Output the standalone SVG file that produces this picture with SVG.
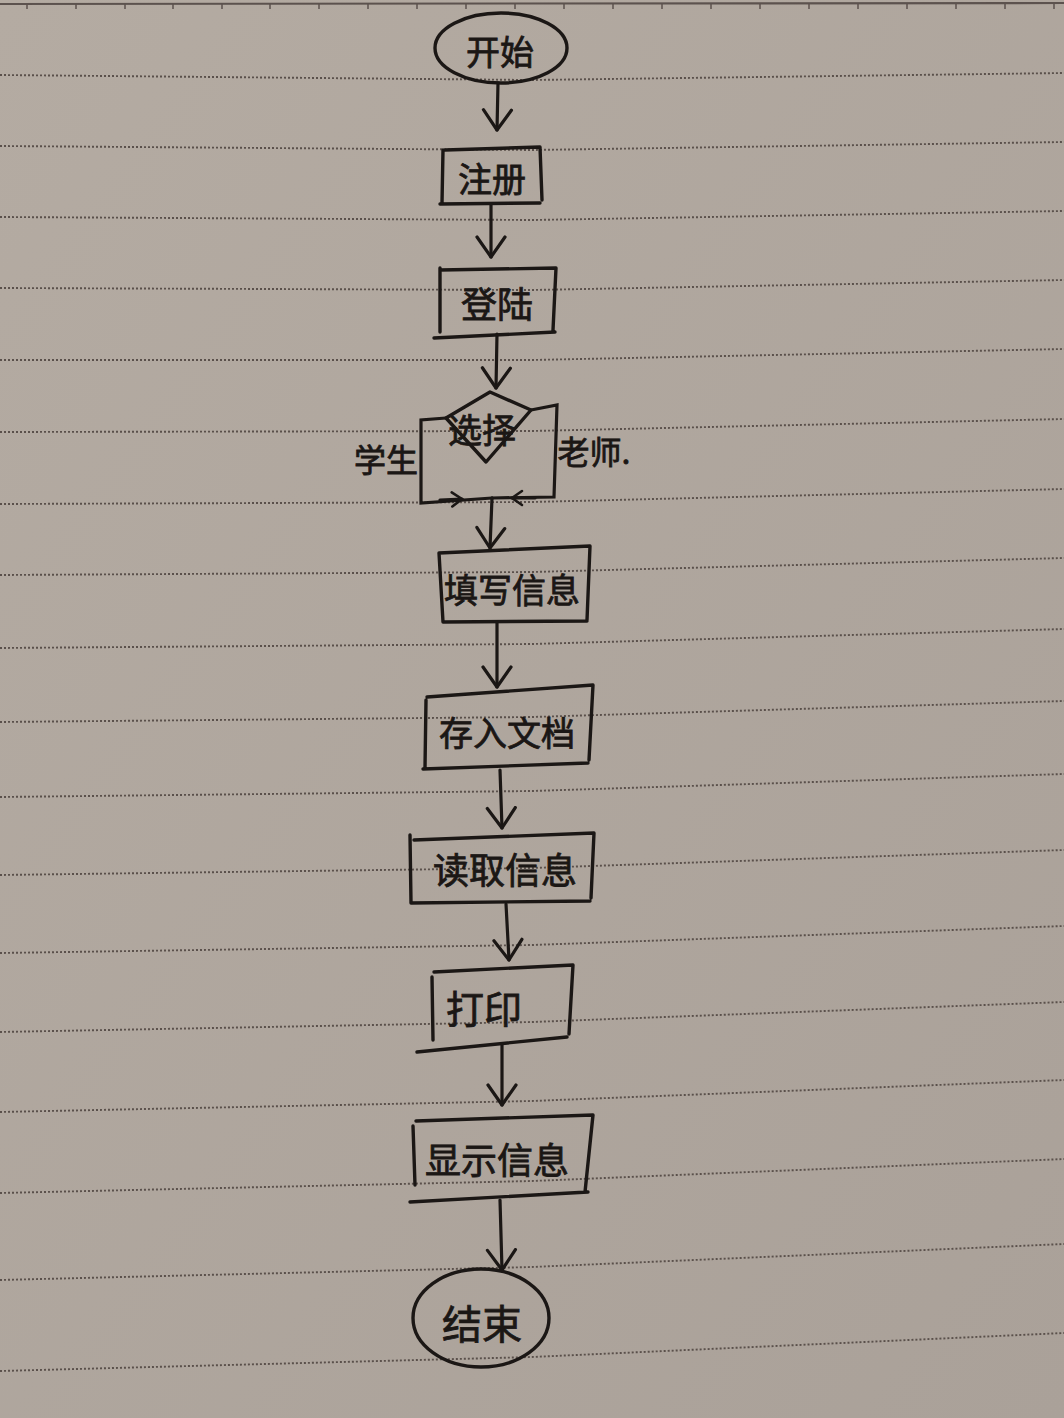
<svg xmlns="http://www.w3.org/2000/svg" width="1064" height="1418" viewBox="0 0 1064 1418">
  <defs>
    <linearGradient id="paper" x1="0" y1="0" x2="1" y2="1">
      <stop offset="0" stop-color="#b4aba2"/>
      <stop offset="1" stop-color="#aaa199"/>
    </linearGradient>
    <marker id="vhead" markerUnits="userSpaceOnUse" markerWidth="34" markerHeight="34" refX="22" refY="15" orient="auto" viewBox="0 0 34 30">
      <path d="M2,1 L22,15 L2,29" fill="none" stroke="#1b1715" stroke-width="3.2" stroke-linecap="round" stroke-linejoin="round"/>
    </marker>
    <marker id="small" markerUnits="userSpaceOnUse" markerWidth="20" markerHeight="20" refX="12" refY="8" orient="auto" viewBox="0 0 20 16">
      <path d="M2,1 L12,8 L2,15" fill="none" stroke="#1b1715" stroke-width="2.6" stroke-linecap="round"/>
    </marker>
  </defs>
  <style>
    .rule { fill: none; stroke: #5a504b; stroke-width: 1.9; stroke-dasharray: 2 2; }
    .ink { fill: none; stroke: #1b1715; stroke-width: 3.4; stroke-linecap: round; stroke-linejoin: round; }
    .lbl { font-family: "Noto Sans CJK SC", "Noto Sans", sans-serif; fill: #1b1715; stroke: #1b1715; stroke-width: 0.8; text-anchor: middle; dominant-baseline: central; }
    .conn { fill: none; stroke: #1b1715; stroke-width: 3.2; stroke-linecap: round; }
  </style>

  <rect x="0" y="0" width="1064" height="1418" fill="url(#paper)"/>

  <g id="paper-rules">
    <path d="M0,4 L1064,3" fill="none" stroke="#5c524e" stroke-width="2.2"/>
    <path d="M27,4 v5 M76,4 v5 M125,4 v5 M173,4 v5 M222,4 v5 M270,4 v5 M319,4 v5 M368,4 v5 M417,4 v5 M466,4 v5 M515,4 v5 M564,4 v5 M613,4 v5 M662,4 v5 M711,4 v5 M760,4 v5 M809,4 v5 M858,4 v5 M907,4 v5 M956,4 v5 M1005,4 v5 M1054,4 v5" stroke="#5c524e" stroke-width="1.5"/>
    <path class="rule" d="M0,75 L532,80 L1064,73"/>
    <path class="rule" d="M0,146 L532,150 L1064,142"/>
    <path class="rule" d="M0,217 L532,220 L1064,211"/>
    <path class="rule" d="M0,288 L532,290 L1064,280"/>
    <path class="rule" d="M0,360 L532,360 L1064,349"/>
    <path class="rule" d="M0,432 L532,431 L1064,419"/>
    <path class="rule" d="M0,504 L532,502 L1064,489"/>
    <path class="rule" d="M0,575 L532,572 L1064,558"/>
    <path class="rule" d="M0,648 L532,644 L1064,629"/>
    <path class="rule" d="M0,722 L532,717 L1064,701"/>
    <path class="rule" d="M0,797 L532,791 L1064,774"/>
    <path class="rule" d="M0,875 L532,868 L1064,850"/>
    <path class="rule" d="M0,953 L532,945 L1064,926"/>
    <path class="rule" d="M0,1032 L532,1022 L1064,1002"/>
    <path class="rule" d="M0,1112 L532,1101 L1064,1080"/>
    <path class="rule" d="M0,1193 L532,1181 L1064,1159"/>
    <path class="rule" d="M0,1280 L532,1267 L1064,1244"/>
    <path class="rule" d="M0,1371 L532,1357 L1064,1333"/>
  </g>

  <g id="connectors">
    <path class="conn" d="M498,83 L497,130" marker-end="url(#vhead)"/>
    <path class="conn" d="M491,205 L491,257" marker-end="url(#vhead)"/>
    <path class="conn" d="M497,334 L496,388" marker-end="url(#vhead)"/>
    <path class="conn" d="M446,418 L421,420 L421,503 L492,498"/>
    <path class="conn" d="M531,410 L557,405 L554,497 L492,498"/>
    <path class="conn" d="M440,500 L462,499" marker-end="url(#small)"/>
    <path class="conn" d="M535,498 L512,498" marker-end="url(#small)"/>
    <path class="conn" d="M492,498 L490,548" marker-end="url(#vhead)"/>
    <path class="conn" d="M497,623 L497,687" marker-end="url(#vhead)"/>
    <path class="conn" d="M500,770 L502,828" marker-end="url(#vhead)"/>
    <path class="conn" d="M506,904 L509,960" marker-end="url(#vhead)"/>
    <path class="conn" d="M502,1045 L502,1105" marker-end="url(#vhead)"/>
    <path class="conn" d="M500,1200 L502,1270" marker-end="url(#vhead)"/>
  </g>

  <g id="start">
    <ellipse class="ink" cx="501" cy="48" rx="66" ry="35"/>
    <text class="lbl" x="500" y="50" font-size="34">开始</text>
  </g>

  <g id="register">
    <path class="ink" d="M445,150 L540,147 L542,200 M443,150 L442,203 M440,204 L540,203"/>
    <text class="lbl" x="492" y="177" font-size="34">注册</text>
  </g>

  <g id="login">
    <path class="ink" d="M440,270 L556,268 L553,330 M440,268 L440,332 M434,338 L555,332"/>
    <text class="lbl" x="497" y="302" font-size="36">登陆</text>
  </g>

  <g id="choose">
    <path class="ink" d="M490,392 L531,410 L486,462 L446,418 Z"/>
    <text class="lbl" x="482" y="428" font-size="34">选择</text>
  </g>

  <g id="label-student">
    <text class="lbl" x="386" y="458" font-size="32">学生</text>
  </g>

  <g id="label-teacher">
    <text class="lbl" x="594" y="450" font-size="32">老师.</text>
  </g>

  <g id="fill-info">
    <path class="ink" d="M439,553 L590,546 L587,620 M439,553 L443,622 L587,621"/>
    <text class="lbl" x="512" y="588" font-size="34">填写信息</text>
  </g>

  <g id="save-doc">
    <path class="ink" d="M427,697 L593,685 L589,760 M426,700 L425,768 M423,769 L588,763"/>
    <text class="lbl" x="507" y="731" font-size="34">存入文档</text>
  </g>

  <g id="read-info">
    <path class="ink" d="M414,840 L594,833 L591,898 M410,835 L411,903 L590,901"/>
    <text class="lbl" x="505" y="868" font-size="36">读取信息</text>
  </g>

  <g id="print">
    <path class="ink" d="M434,972 L573,965 L569,1034 M432,977 L433,1040 M417,1052 L567,1037"/>
    <text class="lbl" x="484" y="1006" font-size="38">打印</text>
  </g>

  <g id="show-info">
    <path class="ink" d="M416,1121 L593,1115 L585,1192 M413,1126 L415,1185 M410,1202 L588,1192"/>
    <text class="lbl" x="497" y="1158" font-size="36">显示信息</text>
  </g>

  <g id="end">
    <ellipse class="ink" cx="481" cy="1318" rx="68" ry="49"/>
    <text class="lbl" x="482" y="1322" font-size="40">结束</text>
  </g>
</svg>
